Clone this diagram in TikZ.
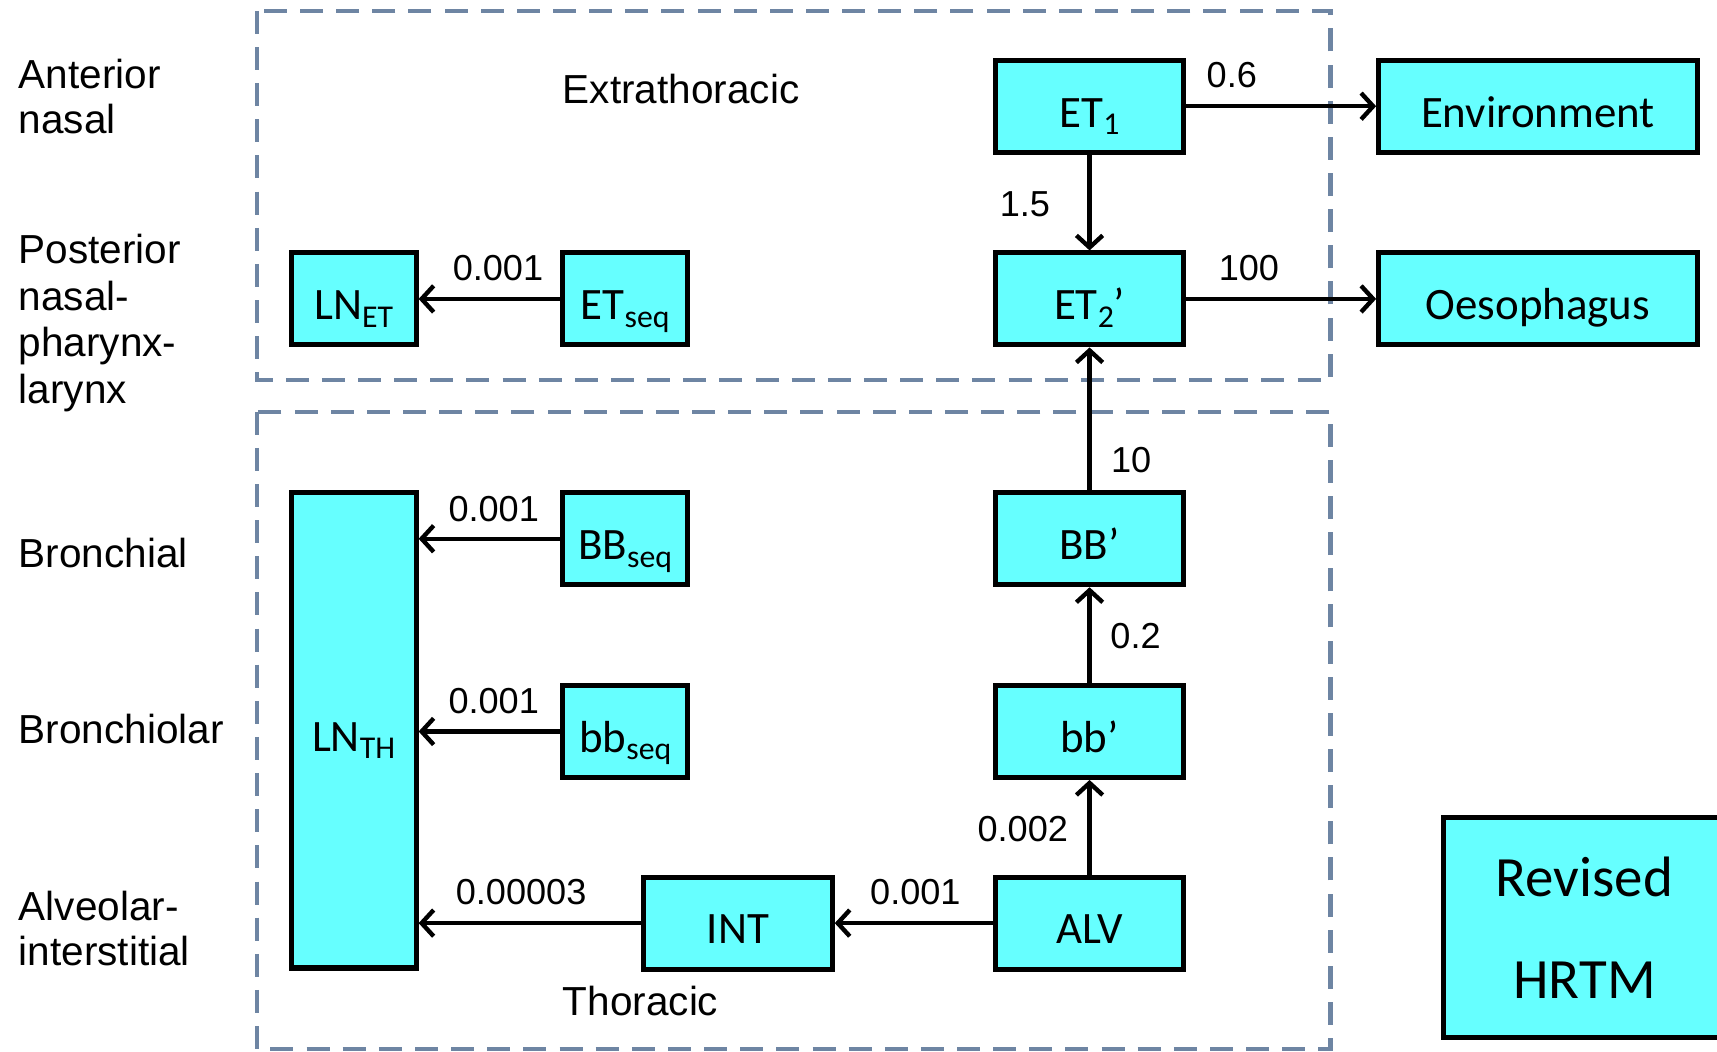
\documentclass[tikz,border=0pt]{standalone}
\usepackage{fontspec}
\setmainfont{Liberation Sans}
\newfontfamily\boxfont{Carlito}
\usetikzlibrary{arrows.meta}

\definecolor{boxcyan}{RGB}{102,255,255}
\definecolor{regionline}{RGB}{110,133,163}

% lowered, smaller index used in compartment names
\newcommand\lowsub[1]{\raisebox{-7pt}{\fontsize{29}{29}\selectfont #1}}

\begin{document}
\begin{tikzpicture}[x=1pt,y=1pt,
  compbase/.style={draw=black, line width=4.6pt, fill=boxcyan, inner sep=0pt},
  comp/.style={compbase, font=\boxfont\fontsize{41}{41}\selectfont,
    minimum height=84pt, text height=38pt, text depth=0pt},
  widebox/.style={comp, minimum width=172pt},
  narrowbox/.style={comp, minimum width=114pt},
  sinkbox/.style={comp, minimum width=291pt},
  region/.style={draw=regionline, line width=3.8pt, dash pattern=on 21pt off 12pt},
  flow/.style={draw=black, line width=4pt, -{Straight Barb[length=11pt,width=24pt]}},
  rate/.style={font=\fontsize{33}{33}\selectfont, inner sep=0pt},
  zone/.style={font=\fontsize{37}{41}\selectfont, align=left, anchor=west, inner sep=0pt},
]
\useasboundingbox (0,0) rectangle (1568,-960);

% regions
\draw[region] (235,-10) rectangle (1215,-347);
\draw[region] (235,-376) rectangle (1215,-958);
\node[font=\fontsize{37}{41}\selectfont, inner sep=0pt] (extra) at (622,-81) {Extrathoracic};
\node[font=\fontsize{37}{41}\selectfont, inner sep=0pt] (thor) at (585,-914) {Thoracic};

% anatomical regions
\node[zone] (ant) at (17,-88) {Anterior\\nasal};
\node[zone, font=\fontsize{37}{42.5}\selectfont] (post) at (17,-295) {Posterior\\nasal-\\pharynx-\\larynx};
\node[zone] (bronch) at (17,-505) {Bronchial};
\node[zone] (bronchiol) at (17,-666) {Bronchiolar};
\node[zone] (alv) at (17,-848) {Alveolar-\\interstitial};

% compartments
\node[widebox] (ET1) at (995,-97) {ET\lowsub{1}};
\node[sinkbox] (env) at (1404.5,-97) {Environment};
\node[widebox] (ET2) at (995,-273) {ET\lowsub{2}’};
\node[sinkbox] (oes) at (1404.5,-273) {Oesophagus};
\node[narrowbox] (LNET) at (323,-273) {LN\lowsub{ET}};
\node[narrowbox] (ETseq) at (571,-273) {ET\lowsub{seq}};
\node[narrowbox, minimum height=434pt] (LNTH) at (323,-667) {LN\lowsub{TH}};
\node[narrowbox] (BBseq) at (571,-492) {BB\lowsub{seq}};
\node[widebox] (BB) at (995,-492) {BB’};
\node[narrowbox] (bbseq) at (571,-668) {bb\lowsub{seq}};
\node[widebox] (bb) at (995,-668) {bb’};
\node[widebox] (INT) at (674,-843) {INT};
\node[widebox] (ALV) at (995,-843) {ALV};
\node[compbase, minimum width=258pt, minimum height=201pt, align=center,
  font=\boxfont\fontsize{52}{93}\selectfont] (hrtm) at (1447,-847)
  {Revised\\HRTM};

% clearance pathways
\draw[flow] (ET1) -- node[rate, pos=0.24, yshift=28pt] {0.6} (env);
\draw[flow] (ET1) -- node[rate, pos=0.52, xshift=-59pt] {1.5} (ET2);
\draw[flow] (ET2) -- node[rate, pos=0.33, yshift=28pt] {100} (oes);
\draw[flow] (ETseq) -- node[rate, pos=0.44, yshift=28pt] {0.001} (LNET);
\draw[flow] (BB) -- node[rate, pos=0.21, xshift=38pt] {10} (ET2);
\draw[flow] (BBseq.west) -- node[rate, pos=0.47, yshift=27pt] {0.001} (BBseq.west -| LNTH.east);
\draw[flow] (bb) -- node[rate, pos=0.49, xshift=42pt] {0.2} (BB);
\draw[flow] (bbseq.west) -- node[rate, pos=0.47, yshift=28pt] {0.001} (bbseq.west -| LNTH.east);
\draw[flow] (ALV) -- node[rate, pos=0.48, xshift=-61pt] {0.002} (bb);
\draw[flow] (ALV) -- node[rate, pos=0.49, yshift=28pt] {0.001} (INT);
\draw[flow] (INT.west) -- node[rate, pos=0.54, yshift=28pt] {0.00003} (INT.west -| LNTH.east);
\end{tikzpicture}
\end{document}
